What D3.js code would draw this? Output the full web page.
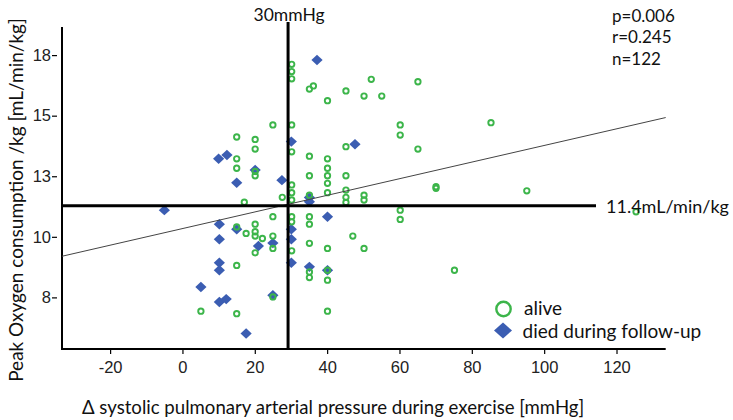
<!DOCTYPE html>
<html><head><meta charset="utf-8">
<script src="https://cdn.jsdelivr.net/npm/d3@7"></script>
<style>html,body{margin:0;padding:0;background:#fff;}svg{display:block;}</style>
</head><body>
<svg id="chart" width="733" height="420"></svg>
<script>
// ---- data ----
const xTicks = [-20, 0, 20, 40, 60, 80, 100, 120];
const yTickValues = [7.5, 10, 12.5, 15, 17.5];
const yTickLabels = ["8", "10", "13", "15", "18"];
const xDomain = [-33.3, 133.6];
const yDomain = [5.37, 18.66];

const aliveX = [30.2,30.2,30.2,30.2,30.2,30.2,30.2,30.2,30.2,30.2,30.2,
  35.1,36.2,35.1,35.1,35.1,35.1,35.1,35.1,35.1,35.1,
  40.1,40.1,40.1,40.1,40.1,40.1,40.1,40.1,40.1,40.1,
  45.2,45.2,45.2,45.2,45.2,45.2,
  47.1,
  50.2,50.2,50.2,50.2,
  52.2,55.1,
  60.2,60.2,60.2,60.2,
  65.1,65.1,
  70.1,70.1,
  75.2,85.3,95.2,125.4,
  25.0,25.0,25.0,25.0,25.0,
  27.6,
  20.1,20.1,20.1,20.1,20.1,20.1,20.1,20.1,
  22.1,
  15.0,15.0,15.0,15.0,15.0,15.0,
  17.1,17.6,
  5.1];
const aliveY = [17.12,16.82,16.52,14.62,13.51,12.14,11.82,11.52,10.83,10.62,9.42,
  16.10,16.23,13.33,12.52,11.72,10.83,10.52,9.73,8.55,8.32,
  15.62,13.22,12.83,12.52,12.21,11.82,9.52,8.62,8.21,6.93,
  16.02,13.72,12.52,11.93,11.63,11.42,
  10.03,
  15.81,11.72,11.52,9.52,
  16.50,15.81,
  14.62,14.20,11.10,10.72,
  16.40,13.62,
  12.07,12.00,
  8.62,14.71,11.90,11.03,
  14.62,10.83,10.03,9.52,7.52,
  11.63,
  14.02,13.62,12.70,12.52,10.52,10.21,10.03,9.34,
  9.93,
  14.12,13.22,12.83,10.41,8.82,6.83,
  11.43,10.14,
  6.93];

const diedX = [-5.0,5.1,10.0,12.3,10.2,10.2,10.2,10.2,10.2,12.1,15.0,15.0,17.6,20.1,21.0,25.0,25.0,27.5,
  30.1,30.1,30.1,30.1,35.1,35.1,35.1,37.2,40.1,40.1,47.7];
const diedY = [11.10,7.93,13.22,13.38,10.52,9.90,8.93,8.62,7.31,7.43,12.23,10.31,6.01,12.76,9.62,9.74,7.59,12.34,
  13.93,10.31,9.90,8.93,11.62,11.45,8.76,17.30,10.83,8.62,13.82];

const regIntercept = 10.34, regSlope = 0.0343;
const cutX = 29.2, cutY = 11.28;
const statsText = ["p=0.006", "r=0.245", "n=122"];
const cutXLabel = "30mmHg", cutYLabel = "11.4mL/min/kg";
const legendLabels = ["alive", "died during follow-up"];
const xTitle = "\u0394 systolic pulmonary arterial pressure during exercise [mmHg]";
const yTitle = "Peak Oxygen consumption /kg [mL/min/kg]";

// ---- drawing ----
const svg = d3.select("#chart");
const green = "#3cb54a", blue = "#3b5db2";
const textFont = "Lato, 'Open Sans', sans-serif";
const tickFont = "'Liberation Sans', Arial, sans-serif";

const x = d3.scaleLinear().domain(xDomain).range([62, 665.7]);
const y = d3.scaleLinear().domain(yDomain).range([349, 27]);

const diamondPath = (hw, hh) => `M0,${-hh}L${hw},0L0,${hh}L${-hw},0Z`;

// x axis
const xAxis = svg.append("g").attr("transform", `translate(0,${y(yDomain[0])})`)
  .call(d3.axisBottom(x).tickValues(xTicks).tickSize(5).tickPadding(7).tickFormat(d => String(d)));
xAxis.select(".domain").attr("stroke", "#000").attr("stroke-width", 2).attr("d", `M${x(xDomain[0])},0H${x(xDomain[1])}`);
xAxis.selectAll(".tick line").attr("stroke", "#000").attr("stroke-width", 1.2);
xAxis.selectAll(".tick text").attr("font-family", tickFont).attr("font-size", 16.5).attr("fill", "#222");

// y axis line
svg.append("line").attr("x1", x(xDomain[0])).attr("x2", x(xDomain[0]))
  .attr("y1", y(yDomain[1])).attr("y2", y(yDomain[0]) + 1).attr("stroke", "#000").attr("stroke-width", 2);
// y ticks (slightly detached from the axis as in the original)
const yAxis = svg.append("g").attr("transform", "translate(57,0)")
  .call(d3.axisLeft(y).tickValues(yTickValues).tickSize(5).tickPadding(1)
    .tickFormat((d, i) => yTickLabels[i]));
yAxis.select(".domain").remove();
yAxis.selectAll(".tick line").attr("stroke", "#000").attr("stroke-width", 1.2);
yAxis.selectAll(".tick text").attr("font-family", tickFont).attr("font-size", 16.5).attr("fill", "#222");

// points: diamonds first, then circles
svg.append("g").selectAll("path").data(diedX.map((d, i) => [d, diedY[i]])).join("path")
  .attr("d", diamondPath(5.6, 5.2)).attr("transform", d => `translate(${x(d[0])},${y(d[1])})`)
  .attr("fill", blue);
svg.append("g").selectAll("circle").data(aliveX.map((d, i) => [d, aliveY[i]])).join("circle")
  .attr("cx", d => x(d[0])).attr("cy", d => y(d[1])).attr("r", 2.7)
  .attr("fill", "none").attr("stroke", green).attr("stroke-width", 1.9);

// regression line
svg.append("line")
  .attr("x1", x(xDomain[0])).attr("y1", y(regIntercept + regSlope * xDomain[0]))
  .attr("x2", x(xDomain[1])).attr("y2", y(regIntercept + regSlope * xDomain[1]))
  .attr("stroke", "#444").attr("stroke-width", 1);

// cutoff lines
svg.append("line").attr("x1", x(cutX)).attr("x2", x(cutX)).attr("y1", 22).attr("y2", y(yDomain[0]))
  .attr("stroke", "#000").attr("stroke-width", 3);
svg.append("line").attr("x1", x(xDomain[0])).attr("x2", 596).attr("y1", y(cutY)).attr("y2", y(cutY))
  .attr("stroke", "#000").attr("stroke-width", 3);

// annotations
svg.append("text").attr("x", x(cutX) + 1).attr("y", 14).attr("text-anchor", "middle").attr("dominant-baseline", "central")
  .attr("font-family", textFont).attr("font-size", 17.5).attr("fill", "#111").text(cutXLabel);
svg.append("text").attr("x", 606).attr("y", y(cutY)).attr("dominant-baseline", "central")
  .attr("font-family", textFont).attr("font-size", 18).attr("fill", "#111").text(cutYLabel);
svg.append("g").selectAll("text").data(statsText).join("text")
  .attr("x", 612).attr("y", (d, i) => 15 + i * 21.6).attr("dominant-baseline", "central")
  .attr("font-family", textFont).attr("font-size", 17).attr("fill", "#111").text(d => d);

// legend
svg.append("circle").attr("cx", 503.5).attr("cy", 309).attr("r", 7.2)
  .attr("fill", "none").attr("stroke", green).attr("stroke-width", 2.4);
svg.append("path").attr("d", diamondPath(9, 8))
  .attr("transform", "translate(503,330.5)").attr("fill", blue);
svg.append("g").selectAll("text").data(legendLabels).join("text")
  .attr("x", (d, i) => i === 0 ? 524 : 522.5).attr("y", (d, i) => i === 0 ? 307.5 : 330)
  .attr("dominant-baseline", "central")
  .attr("font-family", textFont).attr("font-size", 19).attr("fill", "#111").text(d => d);

// axis titles
svg.append("text").attr("x", 82).attr("y", 407).attr("dominant-baseline", "central")
  .attr("font-family", textFont).attr("font-size", 18.6).attr("fill", "#111").text(xTitle);
svg.append("text").attr("transform", "translate(15,200) rotate(-90)").attr("text-anchor", "middle")
  .attr("dominant-baseline", "central")
  .attr("font-family", textFont).attr("font-size", 19).attr("fill", "#111").text(yTitle);
</script>
</body></html>
